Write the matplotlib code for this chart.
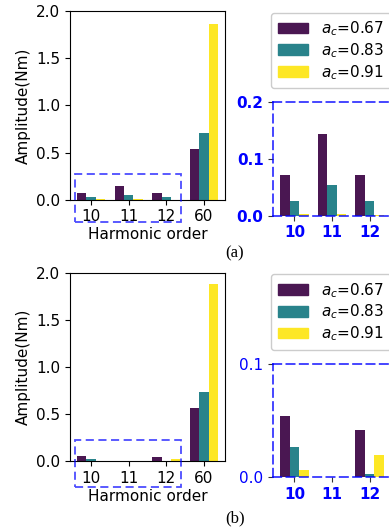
import matplotlib
matplotlib.use("Agg")
import matplotlib.pyplot as plt
import numpy as np
from matplotlib.patches import Rectangle

harmonics = ['10', '11', '12', '60']
series_labels = [r'$a_c$=0.67', r'$a_c$=0.83', r'$a_c$=0.91']
colors = ['#4a1752', '#29838b', '#fde725']

# (a)
a_067 = [0.072, 0.144, 0.072, 0.537]
a_083 = [0.026, 0.055, 0.026, 0.707]
a_091 = [0.0035, 0.003, 0.002, 1.862]
# (b)
b_067 = [0.054, 0.0004, 0.0417, 0.568]
b_083 = [0.0267, 0.0003, 0.0029, 0.735]
b_091 = [0.0064, 0.0003, 0.0197, 1.88]

W, H = 389, 532
fig = plt.figure(figsize=(W / 100, H / 100), dpi=100)
plt.rcParams['font.size'] = 11

def px(l, t, r, b):
    return [l / W, 1 - b / H, (r - l) / W, (b - t) / H]

width = 0.25
x = np.arange(len(harmonics))

def make_row(vals, main_box, inset_box, inset_ylim, inset_ticks, inset_ybold,
             rect, leg_anchor, caption_xy, caption):
    ax = fig.add_axes(px(*main_box))
    for i, v in enumerate(vals):
        ax.bar(x + (i - 1) * width, v, width, color=colors[i], label=series_labels[i])
    ax.set_ylim(0, 2.0)
    ax.set_yticks([0, 0.5, 1.0, 1.5, 2.0])
    ax.set_xticks(x)
    ax.set_xticklabels(harmonics)
    ax.set_ylabel('Amplitude(Nm)')
    ax.set_xlabel('Harmonic order', labelpad=2)
    x0, y0, x1, y1 = rect
    ax.add_patch(Rectangle((x0, y0), x1 - x0, y1 - y0, fill=False,
                           edgecolor='blue', alpha=0.7, linestyle=(0, (4.5, 2.5)),
                           linewidth=1.3, clip_on=False, zorder=5))

    ins = fig.add_axes(px(*inset_box))
    n = 3
    for i, v in enumerate(vals):
        ins.bar(x[:n] + (i - 1) * width, v[:n], width, color=colors[i])
    ins.set_xlim(-0.5625, 3.5625)
    ins.set_ylim(*inset_ylim)
    ins.set_yticks(inset_ticks)
    ins.set_xticks(x[:n])
    ins.set_xticklabels(harmonics[:n], color='blue', fontweight='bold')
    ins.set_yticklabels([f'{t:.1f}' for t in inset_ticks], color='blue',
                        fontweight='bold' if inset_ybold else 'normal')
    for s in ins.spines.values():
        s.set_color('blue')
        s.set_linestyle((0, (5, 3)))
        s.set_linewidth(1.2)
        s.set_alpha(0.85)
    ins.tick_params(colors='#333333', labelcolor='blue')

    handles = [Rectangle((0, 0), 1, 1, color=c) for c in colors]
    fig.legend(handles, series_labels, loc='upper left',
               bbox_to_anchor=(leg_anchor[0] / W, 1 - leg_anchor[1] / H),
               fontsize=11, borderaxespad=0, framealpha=1, edgecolor='#cccccc',
               labelspacing=0.2, borderpad=0.45)
    fig.text(caption_xy[0] / W, 1 - caption_xy[1] / H, caption,
             family='Liberation Serif', fontsize=12, ha='center', va='center')

make_row([a_067, a_083, a_091], (70, 11, 225, 199.7), (273.3, 102.3, 428.3, 215.7),
         (0, 0.2), [0.0, 0.1, 0.2], True, (-0.43, -0.24, 2.38, 0.27),
         (271, 12.5), (235, 253), '(a)')
make_row([b_067, b_083, b_091], (70, 272.7, 225, 461.3), (273.3, 364, 428.3, 477.3),
         (0, 0.1), [0.0, 0.1], False, (-0.43, -0.276, 2.38, 0.226),
         (271, 274), (235, 518), '(b)')

fig.savefig('out.png', dpi=100)
